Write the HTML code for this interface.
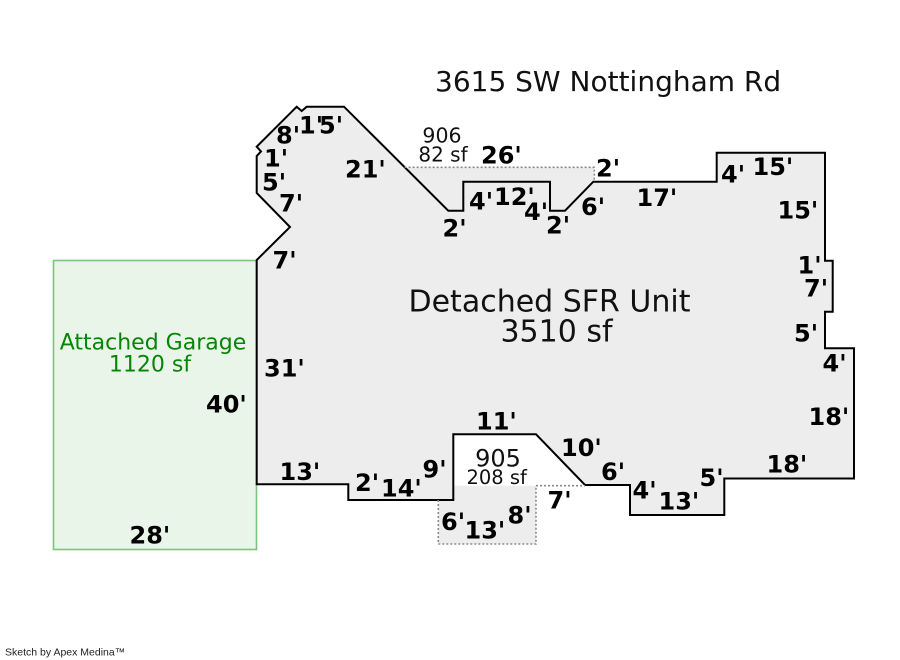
<!DOCTYPE html>
<html>
<head>
<meta charset="utf-8">
<style>
  html, body { margin:0; padding:0; background:#ffffff; }
  body { width:900px; height:660px; overflow:hidden; }
  svg { display:block; }
  .dim { font-family:"DejaVu Sans","Liberation Sans",sans-serif; font-weight:bold; font-size:24px; fill:#000; }
  .lbl { font-family:"DejaVu Sans","Liberation Sans",sans-serif; fill:#111; }
</style>
</head>
<body>
<svg width="900" height="660" viewBox="0 0 900 660" xmlns="http://www.w3.org/2000/svg">
  <rect x="53.5" y="260.5" width="203" height="289" fill="#eaf5ea" stroke="#7cc47c" stroke-width="1.6"/>
  <polygon points="404.6,167.3 594.3,167.3 594.3,181.7 565,210.7 550,210.7 550,181.7 463.3,181.7 463.3,210.7 448.3,210.7" fill="#ededed" stroke="none"/>
  <rect x="438.3" y="485.7" width="97.7" height="58.3" fill="#ededed" stroke="none"/>
  <polygon points="296.7,106.7 301.7,111 306.7,106.7 344,106.7 448.3,210.7 463.3,210.7 463.3,181.7 550,181.7 550,210.7 565,210.7 593.3,181.7 716.7,181.7 716.7,152.7 825,152.7 825,260.7 832.7,260.7 832.7,311.7 825,311.7 825,348.3 854,348.3 854,478.5 724.3,478.5 724.3,515 630,515 630,485 585,485 536,434.3 453.3,434.3 453.3,500 348.3,500 348.3,484.3 256.7,484.3 256.7,260 290,227 256.7,193 256.7,156 261,151.5 256.7,146.7" fill="#ededed" stroke="#000" stroke-width="2"/>
  <polyline points="404.6,167.3 594.3,167.3 594.3,181.7" fill="none" stroke="#8a8a8a" stroke-width="1.6" stroke-dasharray="2,2"/>
  <polyline points="438.3,500 438.3,544 536,544 536,485.7 585,485.7" fill="none" stroke="#8a8a8a" stroke-width="1.6" stroke-dasharray="2,2"/>

  <text class="lbl" x="435" y="91" font-size="28">3615 SW Nottingham Rd</text>
  <text class="lbl" x="549.5" y="311.5" font-size="30" text-anchor="middle">Detached SFR Unit</text>
  <text class="lbl" x="556.5" y="341.5" font-size="30" text-anchor="middle">3510 sf</text>
  <text class="lbl" x="153" y="349.3" font-size="22" text-anchor="middle" style="fill:#078507">Attached Garage</text>
  <text class="lbl" x="150" y="371.7" font-size="22" text-anchor="middle" style="fill:#078507">1120 sf</text>
  <text class="lbl" x="442" y="142.3" font-size="20.5" text-anchor="middle">906</text>
  <text class="lbl" x="443" y="161.7" font-size="20" text-anchor="middle">82 sf</text>
  <text class="lbl" x="498" y="466.7" font-size="24" text-anchor="middle">905</text>
  <text class="lbl" x="496.7" y="484" font-size="19.5" text-anchor="middle">208 sf</text>

  <text class="dim" x="276" y="143.3">8'</text>
  <text class="dim" x="299" y="133.3">1'</text>
  <text class="dim" x="319" y="133.3">5'</text>
  <text class="dim" x="264" y="166.7">1'</text>
  <text class="dim" x="262" y="190.7">5'</text>
  <text class="dim" x="279" y="211.7">7'</text>
  <text class="dim" x="272.5" y="268.3">7'</text>
  <text class="dim" x="345" y="177.7">21'</text>
  <text class="dim" x="481" y="163.3">26'</text>
  <text class="dim" x="596" y="176.7">2'</text>
  <text class="dim" x="469" y="209.3">4'</text>
  <text class="dim" x="494" y="205">12'</text>
  <text class="dim" x="524" y="220">4'</text>
  <text class="dim" x="442.5" y="236.7">2'</text>
  <text class="dim" x="546" y="233.3">2'</text>
  <text class="dim" x="581" y="215">6'</text>
  <text class="dim" x="721" y="182.7">4'</text>
  <text class="dim" x="752.5" y="175">15'</text>
  <text class="dim" x="636.5" y="206">17'</text>
  <text class="dim" x="777.5" y="218.3">15'</text>
  <text class="dim" x="797.5" y="273.3">1'</text>
  <text class="dim" x="804" y="296.7">7'</text>
  <text class="dim" x="794" y="341.7">5'</text>
  <text class="dim" x="822.5" y="371.7">4'</text>
  <text class="dim" x="808.5" y="425">18'</text>
  <text class="dim" x="766.5" y="472.5">18'</text>
  <text class="dim" x="264" y="376.7">31'</text>
  <text class="dim" x="206" y="412.7">40'</text>
  <text class="dim" x="129.5" y="543.3">28'</text>
  <text class="dim" x="279.5" y="480">13'</text>
  <text class="dim" x="355" y="491">2'</text>
  <text class="dim" x="381" y="496.7">14'</text>
  <text class="dim" x="422.5" y="477.3">9'</text>
  <text class="dim" x="476" y="429.3">11'</text>
  <text class="dim" x="561" y="456">10'</text>
  <text class="dim" x="601" y="480">6'</text>
  <text class="dim" x="547.5" y="508.3">7'</text>
  <text class="dim" x="441" y="530">6'</text>
  <text class="dim" x="464.5" y="538.3">13'</text>
  <text class="dim" x="507.5" y="523.3">8'</text>
  <text class="dim" x="632.5" y="498.3">4'</text>
  <text class="dim" x="658.5" y="509.3">13'</text>
  <text class="dim" x="699.5" y="486">5'</text>

  <text x="5" y="655.5" font-family="'Liberation Sans', Arial, sans-serif" font-size="10.5" fill="#222">Sketch by Apex Medina™</text>
</svg>
</body>
</html>
